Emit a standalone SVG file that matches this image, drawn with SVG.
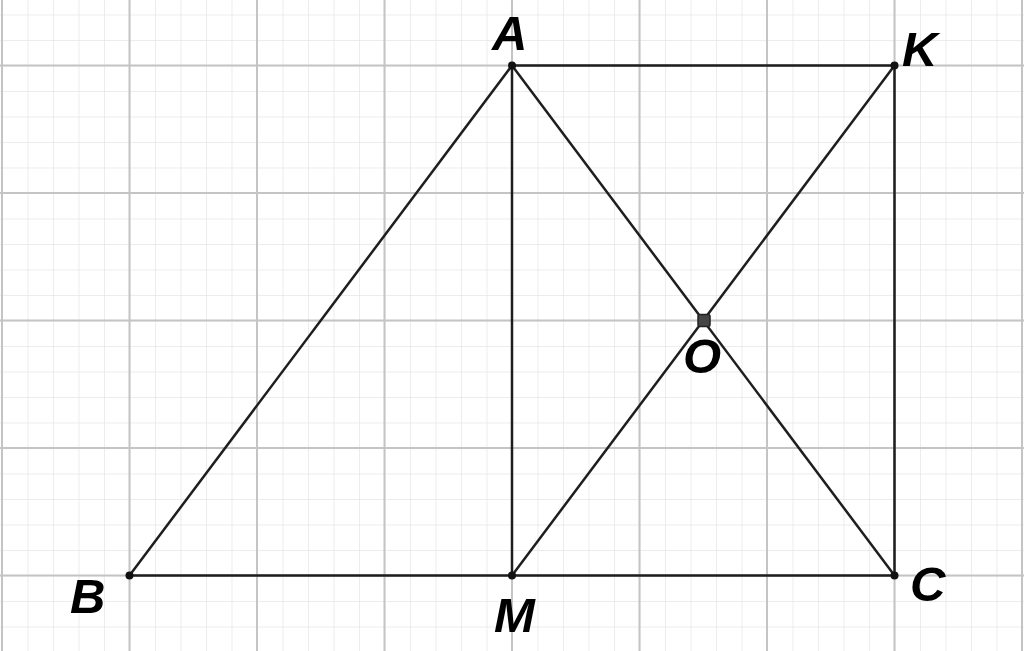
<svg xmlns="http://www.w3.org/2000/svg" width="1024" height="651" viewBox="0 0 1024 651">
<style>
.minor{stroke:#e6e6e6;stroke-width:1.5}
.major{stroke:#c4c4c4;stroke-width:2}
.seg{stroke:#1e1e1e;stroke-width:2.5;fill:none;stroke-linecap:round}
.pt{fill:#111}
.lbl{font-family:"Liberation Sans",Arial,sans-serif;font-weight:bold;font-style:italic;font-size:49px;fill:#000}
</style>
<rect width="1024" height="651" fill="#fff"/>
<defs>
<pattern id="mg" x="2" y="14.5" width="25.5" height="25.5" patternUnits="userSpaceOnUse">
<path d="M0 0V25.5M0 0H25.5" class="minor"/>
</pattern>
</defs>
<g id="grid">
<rect width="1024" height="651" fill="url(#mg)"/>
<g class="major">
<line x1="2" y1="0" x2="2" y2="651"/>
<line x1="129.5" y1="0" x2="129.5" y2="651"/>
<line x1="257" y1="0" x2="257" y2="651"/>
<line x1="384.5" y1="0" x2="384.5" y2="651"/>
<line x1="512" y1="0" x2="512" y2="651"/>
<line x1="639.5" y1="0" x2="639.5" y2="651"/>
<line x1="767" y1="0" x2="767" y2="651"/>
<line x1="894.5" y1="0" x2="894.5" y2="651"/>
<line x1="1022" y1="0" x2="1022" y2="651"/>
<line x1="0" y1="65.5" x2="1024" y2="65.5"/>
<line x1="0" y1="193" x2="1024" y2="193"/>
<line x1="0" y1="320.5" x2="1024" y2="320.5"/>
<line x1="0" y1="448" x2="1024" y2="448"/>
<line x1="0" y1="575.5" x2="1024" y2="575.5"/>
</g>
</g>
<g id="connectors">
<line class="seg" x1="512" y1="65.5" x2="129.5" y2="575.5"/>
<line class="seg" x1="512" y1="65.5" x2="512" y2="575.5"/>
<line class="seg" x1="512" y1="65.5" x2="894.5" y2="65.5"/>
<line class="seg" x1="894.5" y1="65.5" x2="894.5" y2="575.5"/>
<line class="seg" x1="129.5" y1="575.5" x2="894.5" y2="575.5"/>
<line class="seg" x1="512" y1="65.5" x2="894.5" y2="575.5"/>
<line class="seg" x1="512" y1="575.5" x2="894.5" y2="65.5"/>
</g>
<g id="A"><circle class="pt" cx="512" cy="65.5" r="4"/><text class="lbl" x="492" y="50">A</text></g>
<g id="K"><circle class="pt" cx="894.5" cy="65.5" r="4"/><text class="lbl" x="902" y="66">K</text></g>
<g id="B"><circle class="pt" cx="129.5" cy="575.5" r="4"/><text class="lbl" x="70" y="613">B</text></g>
<g id="M"><circle class="pt" cx="512" cy="575.5" r="4"/><text class="lbl" x="494" y="632">M</text></g>
<g id="C"><circle class="pt" cx="894.5" cy="575.5" r="4"/><text class="lbl" x="910" y="601">C</text></g>
<g id="O"><rect x="698" y="314.5" width="12" height="12" rx="2" fill="#444" stroke="#222" stroke-width="1.5"/><text class="lbl" x="683" y="373">O</text></g>
</svg>
